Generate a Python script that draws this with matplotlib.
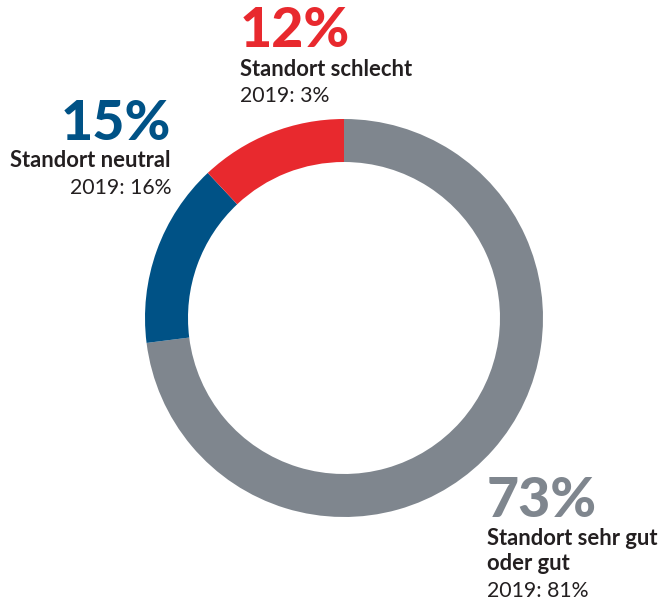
import matplotlib
matplotlib.use("Agg")
import matplotlib.pyplot as plt

categories = ["Standort sehr gut\noder gut", "Standort neutral", "Standort schlecht"]
values = [73, 15, 12]
values_2019 = [81, 16, 3]
colors = ["#7F868E", "#005286", "#E8292E"]

W, H = 658, 604
fig = plt.figure(figsize=(W / 100, H / 100), dpi=100)
ax = fig.add_axes([0, 0, 1, 1])

cx, cy, R, width = 344, H - 318, 199, 43
ax.pie(values, colors=colors, startangle=90, counterclock=False,
       center=(cx, cy), radius=R, frame=True,
       wedgeprops=dict(width=width, linewidth=0))
ax.set_xlim(0, W)
ax.set_ylim(0, H)
ax.set_aspect("equal")
ax.axis("off")

FONT = ["Lato", "DejaVu Sans"]
dark = "#231F20"
big = 40
bold_sz = 15.8
reg_sz = 15.3

def label(x, y_num, y_name, y_year, idx, ha):
    ax.text(x, H - y_num, f"{values[idx]}%", fontsize=big, fontweight="black",
            color=colors[idx], ha=ha, va="baseline", family=FONT)
    ax.text(x, H - y_name, categories[idx], fontsize=bold_sz, fontweight="bold",
            color=dark, ha=ha, va="baseline", family=FONT)
    ax.text(x, H - y_year, f"2019: {values_2019[idx]}%", fontsize=reg_sz,
            color=dark, ha=ha, va="baseline", family=FONT)

# Standort schlecht (top)
label(240, 47, 76, 102, 2, "left")
# Standort neutral (left)
label(171, 140, 167, 194, 1, "right")
# Standort sehr gut oder gut (bottom right)
name_lines = categories[0].split("\n")
ax.text(487, H - 517, f"{values[0]}%", fontsize=big, fontweight="black",
        color=colors[0], ha="left", va="baseline", family=FONT)
ax.text(487, H - 545, name_lines[0], fontsize=bold_sz, fontweight="bold",
        color=dark, ha="left", va="baseline", family=FONT)
ax.text(487, H - 570, name_lines[1], fontsize=bold_sz, fontweight="bold",
        color=dark, ha="left", va="baseline", family=FONT)
ax.text(487, H - 597, f"2019: {values_2019[0]}%", fontsize=reg_sz,
        color=dark, ha="left", va="baseline", family=FONT)

fig.savefig("out.png", dpi=100)
